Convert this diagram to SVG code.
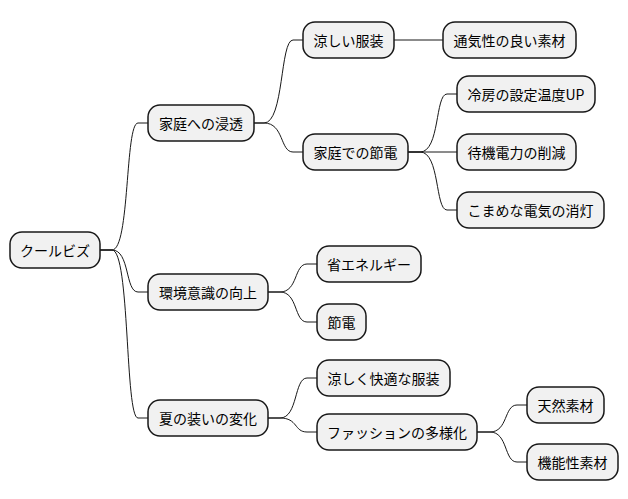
<svg xmlns="http://www.w3.org/2000/svg" width="628" height="499" viewBox="0 0 628 499">
<style>
.n rect{fill:#F1F1F1;stroke:#181818;stroke-width:1.5}
.n text{font-family:"Noto Sans CJK JP","Noto Sans",sans-serif;font-size:14px;fill:#000;text-anchor:middle;dominant-baseline:central}
#c path{fill:none;stroke:#181818;stroke-width:1}
</style>
<rect width="628" height="499" fill="#fff"/>
<g id="c">
<path d="M100,250 L112,250 C130,250 125,123 138,123 L148,123"/>
<path d="M100,250 L112,250 C130,250 125,292 138,292 L148,292"/>
<path d="M100,250 L112,250 C130,250 125,418 138,418 L148,418"/>
<path d="M254,123 L264,123 C284,123 280,40 293,40 L303,40"/>
<path d="M254,123 L264,123 C284,123 280,152 293,152 L303,152"/>
<path d="M394,40 L443,40"/>
<path d="M408,152 L420,152 C440,152 435,94 447,94 L457,94"/>
<path d="M408,152 L457,152"/>
<path d="M408,152 L420,152 C440,152 435,210 447,210 L457,210"/>
<path d="M268,292 L280,292 C298,292 294,264 307,264 L317,264"/>
<path d="M268,292 L280,292 C298,292 294,322 307,322 L317,322"/>
<path d="M268,418 L280,418 C298,418 294,378 307,378 L317,378"/>
<path d="M268,418 L280,418 C298,418 294,432 307,432 L317,432"/>
<path d="M477,432 L490,432 C508,432 504,405 517,405 L527,405"/>
<path d="M477,432 L490,432 C508,432 504,462 517,462 L527,462"/>
</g>
<g id="n0" class="n"><rect x="10" y="232" width="90" height="36" rx="12"/><text x="55" y="250">クールビズ</text></g>
<g id="n1" class="n"><rect x="148" y="105" width="106" height="36" rx="12"/><text x="201" y="123">家庭への浸透</text></g>
<g id="n2" class="n"><rect x="148" y="274" width="120" height="36" rx="12"/><text x="208" y="292">環境意識の向上</text></g>
<g id="n3" class="n"><rect x="148" y="400" width="120" height="36" rx="12"/><text x="208" y="418">夏の装いの変化</text></g>
<g id="n4" class="n"><rect x="303" y="22" width="91" height="36" rx="12"/><text x="348.5" y="40">涼しい服装</text></g>
<g id="n5" class="n"><rect x="303" y="134" width="105" height="36" rx="12"/><text x="355.5" y="152">家庭での節電</text></g>
<g id="n6" class="n"><rect x="443" y="22" width="133" height="36" rx="12"/><text x="509.5" y="40">通気性の良い素材</text></g>
<g id="n7" class="n"><rect x="457" y="76" width="138" height="36" rx="12"/><text x="526" y="94">冷房の設定温度UP</text></g>
<g id="n8" class="n"><rect x="457" y="134" width="119" height="36" rx="12"/><text x="516.5" y="152">待機電力の削減</text></g>
<g id="n9" class="n"><rect x="457" y="192" width="147" height="36" rx="12"/><text x="530.5" y="210">こまめな電気の消灯</text></g>
<g id="n10" class="n"><rect x="317" y="246" width="104" height="36" rx="12"/><text x="369" y="264">省エネルギー</text></g>
<g id="n11" class="n"><rect x="317" y="304" width="49" height="36" rx="12"/><text x="341.5" y="322">節電</text></g>
<g id="n12" class="n"><rect x="317" y="360" width="133" height="36" rx="12"/><text x="383.5" y="378">涼しく快適な服装</text></g>
<g id="n13" class="n"><rect x="317" y="414" width="160" height="36" rx="12"/><text x="397" y="432">ファッションの多様化</text></g>
<g id="n14" class="n"><rect x="527" y="387" width="77" height="36" rx="12"/><text x="565.5" y="405">天然素材</text></g>
<g id="n15" class="n"><rect x="527" y="444" width="91" height="36" rx="12"/><text x="572.5" y="462">機能性素材</text></g>
</svg>
